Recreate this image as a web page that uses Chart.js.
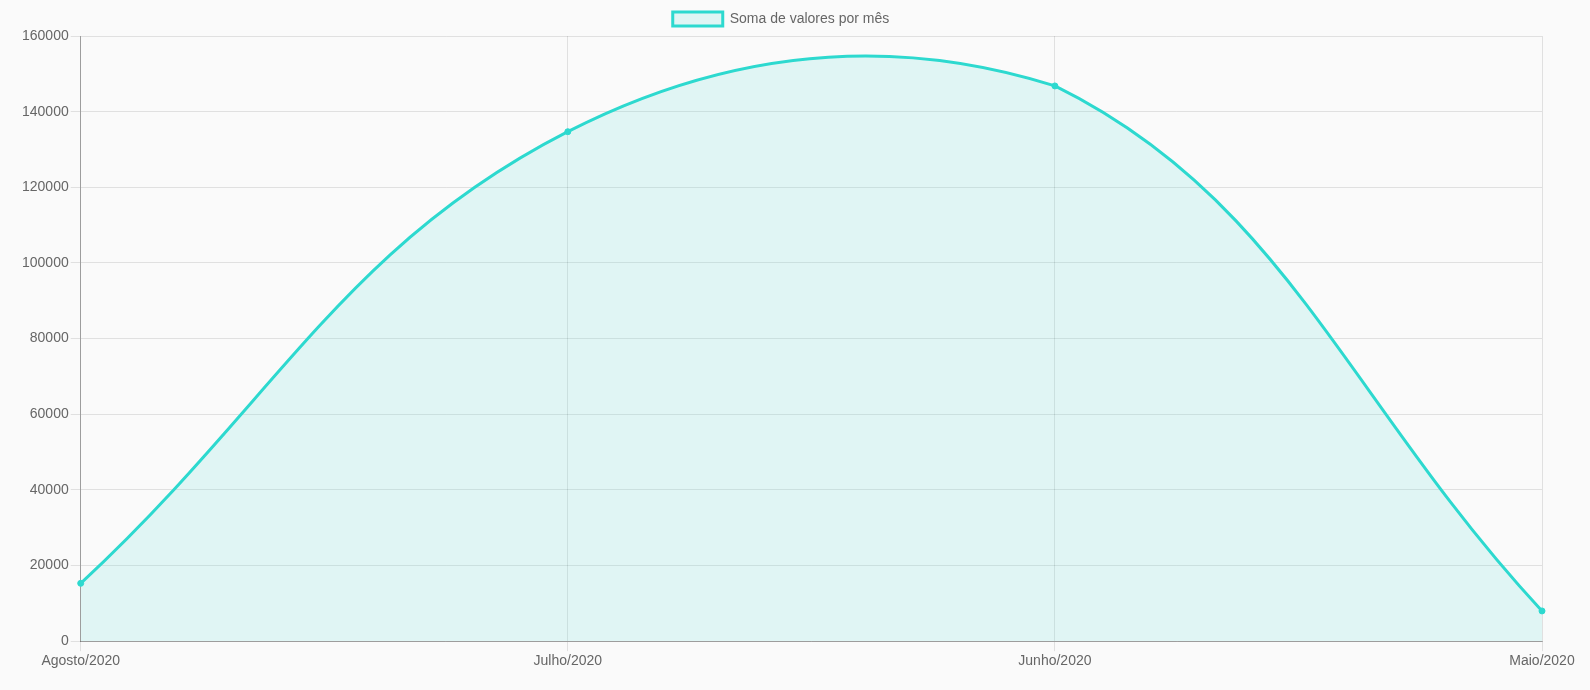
<!DOCTYPE html>
<html>
<head>
<meta charset="utf-8">
<script src="https://cdn.jsdelivr.net/npm/chart.js@4/dist/chart.umd.min.js"></script>
<style>
  html, body { margin: 0; padding: 0; background: #fafafa; }
  #wrap { width: 1590px; height: 690px; }
</style>
</head>
<body>
<div id="wrap"><canvas id="grafico"></canvas></div>
<script>
// dados do gráfico
const meses = ['Agosto/2020', 'Julho/2020', 'Junho/2020', 'Maio/2020'];
const valores = [15300, 134700, 146800, 8000];

Chart.defaults.font.family = '"Liberation Sans", Arial, sans-serif';
Chart.defaults.font.size = 14;
Chart.defaults.color = '#666';

new Chart(document.getElementById('grafico'), {
  type: 'line',
  data: {
    labels: meses,
    datasets: [
      {
        label: 'Soma de valores por mês',
        data: valores,
        borderColor: '#2dd9cf',
        backgroundColor: 'rgba(45, 217, 207, 0.12)',
        borderWidth: 3,
        pointRadius: 3,
        pointBackgroundColor: '#2dd9cf',
        pointBorderColor: '#2dd9cf',
        pointBorderWidth: 1,
        fill: true,
        tension: 0.4,
      },
    ],
  },
  options: {
    responsive: true,
    maintainAspectRatio: false,
    animation: false,
    layout: { padding: { left: 20, right: 48, top: 4, bottom: 18 } },
    plugins: {
      legend: {
        position: 'top',
        labels: { boxWidth: 50, boxHeight: 14, padding: 8 },
      },
      tooltip: { enabled: false },
    },
    scales: {
      x: {
        grid: { color: 'rgba(0,0,0,0.1)', tickLength: 10 },
        border: { color: 'rgba(0,0,0,0.3)' },
        ticks: { maxRotation: 0, padding: 2 },
      },
      y: {
        min: 0,
        max: 160000,
        grid: { color: 'rgba(0,0,0,0.1)', tickLength: 10 },
        border: { color: 'rgba(0,0,0,0.3)' },
        ticks: {
          stepSize: 20000,
          padding: 2,
          callback: (v) => String(v),
        },
      },
    },
  },
});
</script>
</body>
</html>
